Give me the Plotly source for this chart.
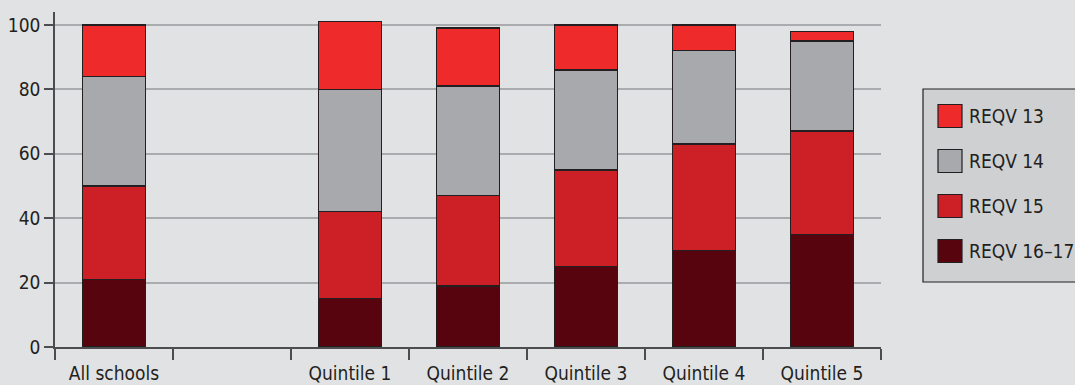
import plotly.graph_objects as go

categories = ["All schools", " ", "Quintile 1", "Quintile 2", "Quintile 3", "Quintile 4", "Quintile 5"]
reqv_16_17 = [21, None, 15, 19, 25, 30, 35]
reqv_15 = [29, None, 27, 28, 30, 33, 32]
reqv_14 = [34, None, 38, 34, 31, 29, 28]
reqv_13 = [16, None, 21, 18, 14, 8, 3]

series_names = ["REQV 16–17", "REQV 15", "REQV 14", "REQV 13"]
series_values = [reqv_16_17, reqv_15, reqv_14, reqv_13]
series_colors = ["#58040e", "#cc1f26", "#a7a9ac", "#ee2a2a"]
y_ticks = [0, 20, 40, 60, 80, 100]

FONT = "DejaVu Sans Condensed, Liberation Sans Narrow, sans-serif"
FS = 19
BG = "#e1e2e4"
TEXT = "#231f20"

W, H = 1075, 385
L, R, T, B = 55, 194, 12, 38
pw, ph = W - L - R, H - T - B

def px(x):
    return (x - L) / pw

def py(y):
    return (H - B - y) / ph

fig = go.Figure()
for name, vals, col in zip(series_names, series_values, series_colors):
    fig.add_trace(go.Bar(
        x=categories, y=vals, name=name,
        marker=dict(color=col, line=dict(color=TEXT, width=1.5)),
        width=0.53, showlegend=False,
    ))

# manual legend (top to bottom: REQV 13 ... REQV 16–17)
shapes = [dict(type="rect", xref="paper", yref="paper",
               x0=px(923), x1=px(1085), y0=py(282), y1=py(89),
               fillcolor="#cfd0d2", line=dict(color=TEXT, width=1.2), layer="above")]
annotations = []
legend_order = list(zip(series_names, series_colors))[::-1]
for i, (name, col) in enumerate(legend_order):
    cy = 116 + i * 45
    shapes.append(dict(type="rect", xref="paper", yref="paper",
                       x0=px(938), x1=px(962), y0=py(cy + 11.5), y1=py(cy - 11.5),
                       fillcolor=col, line=dict(color=TEXT, width=1.2), layer="above"))
    annotations.append(dict(xref="paper", yref="paper", x=px(967), y=py(cy),
                            text=name, showarrow=False, xanchor="left", yanchor="middle",
                            font=dict(family=FONT, size=FS, color=TEXT)))

fig.update_layout(
    barmode="stack",
    width=W, height=H,
    margin=dict(l=L, r=R, t=T, b=B, pad=0, autoexpand=False),
    paper_bgcolor=BG, plot_bgcolor=BG,
    font=dict(family=FONT, size=FS, color=TEXT),
    shapes=shapes, annotations=annotations,
    showlegend=False,
)
fig.update_xaxes(
    type="category", categoryorder="array", categoryarray=categories,
    showline=True, linecolor="#4d4d4f", linewidth=1.5,
    ticks="outside", ticklen=11, tickwidth=1.5, tickcolor="#4d4d4f",
    tickson="boundaries", showgrid=False, zeroline=False, automargin=False,
    ticklabelstandoff=8,
    tickfont=dict(family=FONT, size=FS, color=TEXT),
)
fig.update_yaxes(
    range=[0, 104], tickvals=y_ticks,
    showline=True, linecolor="#4d4d4f", linewidth=1.5,
    ticks="outside", ticklen=9, tickwidth=1.5, tickcolor="#4d4d4f",
    showgrid=True, gridcolor="#a9abae", gridwidth=1.5, zeroline=False, automargin=False,
    tickfont=dict(family=FONT, size=FS, color=TEXT),
)

fig.write_html("out.html")
